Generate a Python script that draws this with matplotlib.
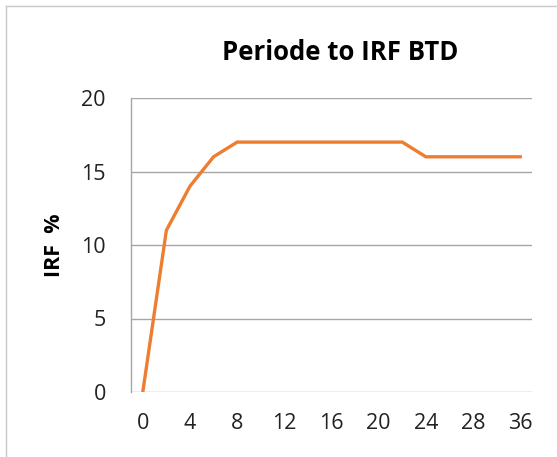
import matplotlib
matplotlib.use("Agg")
import matplotlib.pyplot as plt
from matplotlib.lines import Line2D

categories = ["0", "2", "4", "6", "8", "10", "12", "14", "16", "18", "20",
              "22", "24", "26", "28", "30", "36"]
irf_values = [0, 11, 14, 16, 17, 17, 17, 17, 17, 17, 17, 17, 16, 16, 16, 16, 16]
y_ticks = [0, 5, 10, 15, 20]

plt.rcParams['font.family'] = ['Open Sans', 'DejaVu Sans']

fig = plt.figure(figsize=(5.57, 4.57), dpi=100)
ax = fig.add_axes([131/557, 1-392/457, (532-131)/557, (392-98)/457])

x = list(range(len(categories)))
ax.plot(x, irf_values, color="#ED7D31", lw=2.4, solid_joinstyle="miter")

ax.set_xlim(-0.5, len(categories) - 0.5)
ax.set_ylim(0, 20)
ax.set_yticks(y_ticks)
ax.set_yticklabels([str(v) for v in y_ticks], fontsize=15.5, color="#222222")
ax.set_xticks(x[::2])
ax.set_xticklabels(categories[::2], fontsize=15.5, color="#222222")
ax.tick_params(axis='both', length=0)
ax.tick_params(axis='y', pad=18)
ax.tick_params(axis='x', pad=15)

ax.grid(axis='y', color="#a6a6a6", lw=1)
ax.set_axisbelow(True)
for s in ['top', 'right', 'bottom']:
    ax.spines[s].set_visible(False)
ax.spines['left'].set_color("#a6a6a6")
ax.spines['left'].set_linewidth(1)

fig.text(55/557, 1-245/457, "IRF  %", fontsize=15.5, fontweight='bold',
         rotation=90, ha='center', va='center')
fig.text(340/557, 1-53/457, "Periode to IRF BTD", fontsize=18.5, fontweight='bold',
         ha='center', va='center')

# outer border (left and top)
fig.add_artist(Line2D([6/557, 6/557], [0, 1-6/457], color="#c8c8c8", lw=1, transform=fig.transFigure))
fig.add_artist(Line2D([6/557, 1], [1-6/457, 1-6/457], color="#c8c8c8", lw=1, transform=fig.transFigure))

fig.savefig("out.png", dpi=100)
